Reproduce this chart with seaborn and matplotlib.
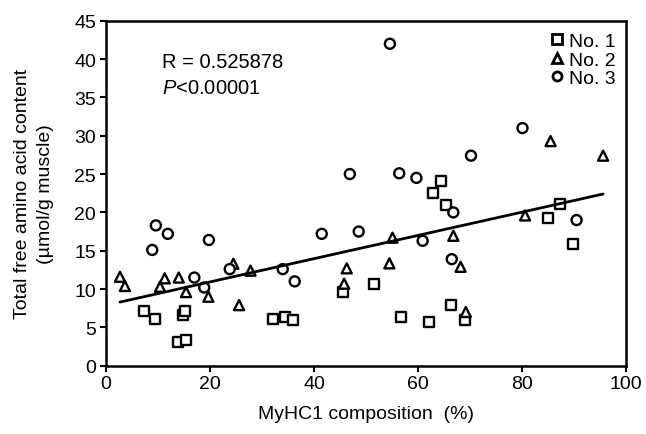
import numpy as np
import pandas as pd
import seaborn as sns
import matplotlib.pyplot as plt

# MyHC1 composition (%) vs total free amino acid content
no1_x = [7.4, 9.4, 13.9, 14.9, 15.2, 15.4, 32.2, 34.4, 35.9, 45.5, 51.6,
         56.7, 62.2, 62.8, 64.4, 65.4, 66.3, 69.0, 85.1, 87.3, 89.9]
no1_y = [7.2, 6.1, 3.05, 6.6, 7.2, 3.3, 6.1, 6.4, 6.0, 9.65, 10.65,
         6.4, 5.7, 22.5, 24.1, 21.0, 7.9, 5.9, 19.3, 21.1, 15.9]

no2_x = [2.7, 3.65, 10.4, 11.3, 14.0, 15.4, 19.7, 24.5, 25.6, 27.8, 45.8,
         46.3, 54.5, 55.1, 66.8, 68.2, 69.2, 80.6, 85.5, 95.6]
no2_y = [11.6, 10.4, 10.3, 11.4, 11.5, 9.6, 9.0, 13.3, 7.9, 12.4, 10.7,
         12.7, 13.35, 16.7, 16.95, 12.9, 7.0, 19.6, 29.3, 27.4]

no3_x = [8.9, 9.6, 11.9, 17.0, 18.9, 19.8, 23.8, 34.0, 36.3, 41.5, 46.9,
         48.6, 54.6, 56.4, 59.7, 60.9, 66.5, 66.8, 70.2, 80.1, 90.5]
no3_y = [15.1, 18.3, 17.2, 11.5, 10.2, 16.4, 12.6, 12.6, 11.0, 17.2, 25.0,
         17.5, 42.0, 25.1, 24.5, 16.3, 13.9, 20.0, 27.4, 31.0, 19.0]

# regression line ends as drawn
fit_x = [2.7, 95.6]
fit_y = [8.3, 22.4]

df = pd.DataFrame({
    'x': no1_x + no2_x + no3_x,
    'y': no1_y + no2_y + no3_y,
    'group': ['No. 1'] * len(no1_x) + ['No. 2'] * len(no2_x) + ['No. 3'] * len(no3_x),
})

sns.set_style('white')
plt.rcParams['font.family'] = ['Liberation Sans', 'DejaVu Sans']
plt.rcParams['mathtext.fontset'] = 'custom'
plt.rcParams['mathtext.it'] = 'Liberation Sans:italic'
plt.rcParams['mathtext.rm'] = 'Liberation Sans'
for k in ['text.color', 'axes.labelcolor', 'xtick.color', 'ytick.color']:
    plt.rcParams[k] = 'black'

fig = plt.figure(figsize=(6.46, 4.35), dpi=100)
ax = fig.add_axes([0.164, 0.157, 0.805, 0.793])

sns.scatterplot(data=df, x='x', y='y', style='group',
                markers={'No. 1': 's', 'No. 2': '^', 'No. 3': 'o'},
                color='white', edgecolor='black', linewidth=1.7, s=52, ax=ax)
ax.plot(fit_x, fit_y, color='black', lw=2)

ax.set_xlim(0, 100)
ax.set_ylim(0, 45)
ax.set_xticks(range(0, 101, 20))
ax.set_yticks(range(0, 46, 5))
ax.tick_params(direction='out', length=4, width=1.5, labelsize=14,
               left=True, bottom=True, pad=3)
for sp in ax.spines.values():
    sp.set_linewidth(1.8)
    sp.set_color('black')

ax.set_xlabel('MyHC1 composition  (%)', fontsize=14, labelpad=9)
ax.set_ylabel('Total free amino acid content\n(\u00b5mol/g muscle)', fontsize=14,
              labelpad=15, linespacing=1.4)

ax.text(10.8, 39.7, 'R = 0.525878', fontsize=14.5, va='center')
ax.text(10.8, 36.3, r'$\mathit{P}$<0.00001', fontsize=14.5, va='center')

h, l = ax.get_legend_handles_labels()
for hh in h:
    hh.set_markersize(6.5)
    hh.set_markeredgewidth(2)
leg = ax.legend(h, l, loc='upper left', bbox_to_anchor=(0.852, 0.966),
                frameon=False, fontsize=14, handletextpad=0.25,
                labelspacing=0.05, borderaxespad=0, borderpad=0,
                handlelength=0.8)

fig.savefig('out.png', dpi=100)
